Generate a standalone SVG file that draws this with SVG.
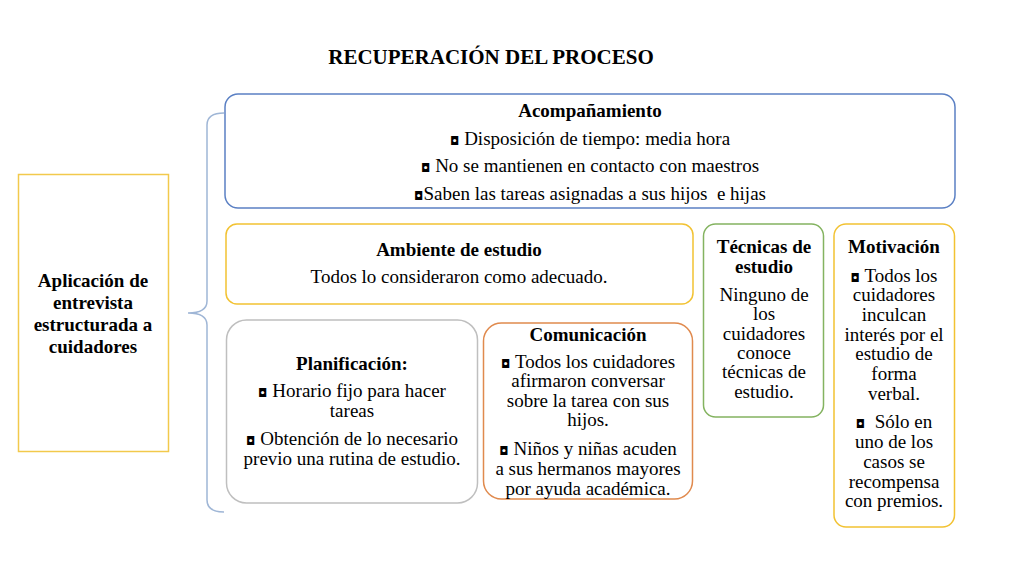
<svg xmlns="http://www.w3.org/2000/svg" width="1024" height="576" viewBox="0 0 1024 576">
<style>
text{font-family:"Liberation Serif","Times New Roman",serif;font-size:19px;fill:#000;text-anchor:middle}
.b{font-weight:bold}
.k{font-family:"DejaVu Sans",sans-serif;font-size:12px}
.box{fill:#fff;stroke-width:1.5}
</style>
<rect width="1024" height="576" fill="#fff"/>
<text x="491" y="64" class="b" style="font-size:21px">RECUPERACIÓN DEL PROCESO</text>
<g id="connectors">
<path d="M224 113 Q207 113 207 125 L207 301 Q207 313 188 313 Q207 313 207 325 L207 500 Q207 512 224 512" fill="none" stroke="#9fb6d6" stroke-width="1.5"/>
</g>
<g id="n-aplicacion">
<rect class="box" x="18.5" y="174.5" width="150" height="277" stroke="#f2c94c"/>
<text x="93" y="287" class="b">Aplicación de</text>
<text x="93" y="309" class="b">entrevista</text>
<text x="93" y="331" class="b">estructurada a</text>
<text x="93" y="353" class="b">cuidadores</text>
</g>
<g id="n-acompanamiento">
<rect class="box" x="225" y="94" width="730" height="114" rx="13" stroke="#5b80c4"/>
<text x="590" y="117" class="b">Acompañamiento</text>
<text x="590" y="145"><tspan class="k">◘</tspan> Disposición de tiempo: media hora</text>
<text x="590" y="172"><tspan class="k">◘</tspan> No se mantienen en contacto con maestros</text>
<text x="590" y="200" xml:space="preserve"><tspan class="k">◘</tspan>Saben las tareas asignadas a sus hijos  e hijas</text>
</g>
<g id="n-ambiente">
<rect class="box" x="226" y="224" width="467" height="80" rx="11" stroke="#f2c232"/>
<text x="459" y="256" class="b">Ambiente de estudio</text>
<text x="459" y="283">Todos lo consideraron como adecuado.</text>
</g>
<g id="n-planificacion">
<rect class="box" x="226.5" y="320" width="251" height="183" rx="20" stroke="#bfbfbf"/>
<text x="352" y="370" class="b">Planificación:</text>
<text x="352" y="397"><tspan class="k">◘</tspan> Horario fijo para hacer</text>
<text x="352" y="417">tareas</text>
<text x="352" y="445"><tspan class="k">◘</tspan> Obtención de lo necesario</text>
<text x="352" y="465">previo una rutina de estudio.</text>
</g>
<g id="n-comunicacion">
<rect class="box" x="483.5" y="323" width="209" height="176" rx="18" stroke="#e08a4e"/>
<text x="588" y="341" class="b">Comunicación</text>
<text x="588" y="368"><tspan class="k">◘</tspan> Todos los cuidadores</text>
<text x="588" y="387">afirmaron conversar</text>
<text x="588" y="407">sobre la tarea con sus</text>
<text x="588" y="426">hijos.</text>
<text x="588" y="455"><tspan class="k">◘</tspan> Niños y niñas acuden</text>
<text x="588" y="475">a sus hermanos mayores</text>
<text x="588" y="495">por ayuda académica.</text>
</g>
<g id="n-tecnicas">
<rect class="box" x="703.5" y="224" width="120" height="193" rx="12" stroke="#84b360"/>
<text x="764" y="253" class="b">Técnicas de</text>
<text x="764" y="273" class="b">estudio</text>
<text x="764" y="301">Ninguno de</text>
<text x="764" y="320">los</text>
<text x="764" y="340">cuidadores</text>
<text x="764" y="359">conoce</text>
<text x="764" y="378">técnicas de</text>
<text x="764" y="398">estudio.</text>
</g>
<g id="n-motivacion">
<rect class="box" x="834" y="224" width="120.5" height="303" rx="12" stroke="#f2c232"/>
<text x="894" y="253" class="b">Motivación</text>
<text x="894" y="282"><tspan class="k">◘</tspan> Todos los</text>
<text x="894" y="301">cuidadores</text>
<text x="894" y="321">inculcan</text>
<text x="894" y="341">interés por el</text>
<text x="894" y="360">estudio de</text>
<text x="894" y="380">forma</text>
<text x="894" y="400">verbal.</text>
<text x="894" y="428" xml:space="preserve"><tspan class="k">◘</tspan>  Sólo en</text>
<text x="894" y="448">uno de los</text>
<text x="894" y="468">casos se</text>
<text x="894" y="488">recompensa</text>
<text x="894" y="507">con premios.</text>
</g>
</svg>
